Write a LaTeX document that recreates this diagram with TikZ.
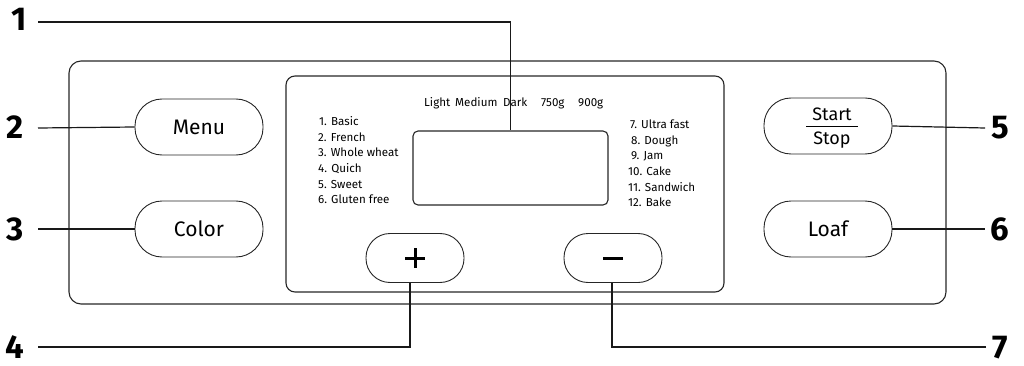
\documentclass[tikz,border=0pt]{standalone}
\usepackage{fontspec}
\setmainfont{Fira Sans}
\begin{document}
\begin{tikzpicture}[x=1pt,y=-1pt,
  panel/.style={draw=black!85,line width=1.1pt},
  btn/.style={draw=black!85,line width=0.9pt,rectangle,rounded corners=27pt,minimum width=128pt,minimum height=56pt,inner sep=0pt,font=\fontsize{21}{24}\selectfont},
  smallbtn/.style={btn,minimum width=98pt,minimum height=49pt,rounded corners=24pt},
  num/.style={font=\fontsize{33}{36}\selectfont\bfseries,inner sep=0pt,anchor=base},
  lead/.style={line width=1.2pt,black!90},
  prog/.style={font=\fontsize{11.6}{13}\selectfont,anchor=base west,inner sep=0pt},
  ssfont/.style={font=\fontsize{18}{20}\selectfont,inner sep=0pt}]
\useasboundingbox (0,0) rectangle (1024,366);
% panels
\draw[panel,rounded corners=12pt] (69,61) rectangle (946,304);
\draw[panel,rounded corners=9pt] (286,76) rectangle (724,292);
\node[draw=black!85,line width=1.1pt,rounded corners=5pt,minimum width=195pt,minimum height=74pt,inner sep=0pt] (lcd) at (510.5,168) {};
% buttons
\node[btn] (menu) at (199,127) {Menu};
\node[btn] (color) at (199,229) {Color};
\node[btn] (start) at (828,126) {};
\node[btn] (loaf) at (828,229) {Loaf};
\node[smallbtn] (plus) at (415,258) {};
\node[smallbtn] (minus) at (613,258) {};
\draw[line width=3pt] (plus.center) ++(-10,0) coordinate (p1) -- ++(20,0) coordinate (p2);
\draw[line width=3pt] (plus.center) ++(0,-10) coordinate (p3) -- ++(0,20) coordinate (p4);
\draw[line width=3pt] (minus.center) ++(-10,0) coordinate (m1) -- ++(20,0) coordinate (m2);
% start/stop
\node[ssfont,anchor=base] (st) at (832,121) {Start};
\node[ssfont,anchor=base] (sp) at (832,145) {Stop};
\draw[line width=1pt] (806,126.5) coordinate (s1) -- (858,126.5) coordinate (s2);
% top text
\node[prog] (t1) at (424,107) {Light};
\node[prog] (t2) at (455,107) {Medium};
\node[prog] (t3) at (503,107) {Dark};
\node[prog] (t4) at (541,107) {750g};
\node[prog] (t5) at (578,107) {900g};
% program lists
\node[prog] (p1) at (319,126) {1. Basic};
\node[prog] (p2) at (318,141.5) {2. French};
\node[prog] (p3) at (318,157) {3. Whole wheat};
\node[prog] (p4) at (318,172.5) {4. Quich};
\node[prog] (p5) at (318,188) {5. Sweet};
\node[prog] (p6) at (318,203.5) {6. Gluten free};
\node[prog] (q7) at (630,128.5) {7. Ultra fast};
\node[prog] (q8) at (631,144.5) {8. Dough};
\node[prog] (q9) at (631,160) {9. Jam};
\node[prog] (q10) at (628,175.5) {10. Cake};
\node[prog] (q11) at (628,191) {11. Sandwich};
\node[prog] (q12) at (628,206.5) {12. Bake};
% numbers
\node[num] (n1) at (19,31) {1};
\node[num] (n2) at (15,139) {2};
\node[num] (n3) at (15,240) {3};
\node[num] (n4) at (15,358.5) {4};
\node[num] (n5) at (1000,139) {5};
\node[num] (n6) at (1000,240) {6};
\node[num] (n7) at (1000,358.5) {7};
% leaders
\draw[lead] (38,22) coordinate (a1) -- (510.5,22) -- (lcd.north);
\draw[lead] (38,128) coordinate (a2) -- (menu.west);
\draw[lead] (38,229) coordinate (a3) -- (color.west);
\draw[lead] (38,347) coordinate (a4) -- (410,347) -- (410,282.5);
\draw[lead] (986,347) coordinate (a7) -- (612,347) -- (612,282.5);
\draw[lead] (start.east) -- (985,128) coordinate (a5);
\draw[lead] (loaf.east) -- (985,229) coordinate (a6);
\end{tikzpicture}
\end{document}
